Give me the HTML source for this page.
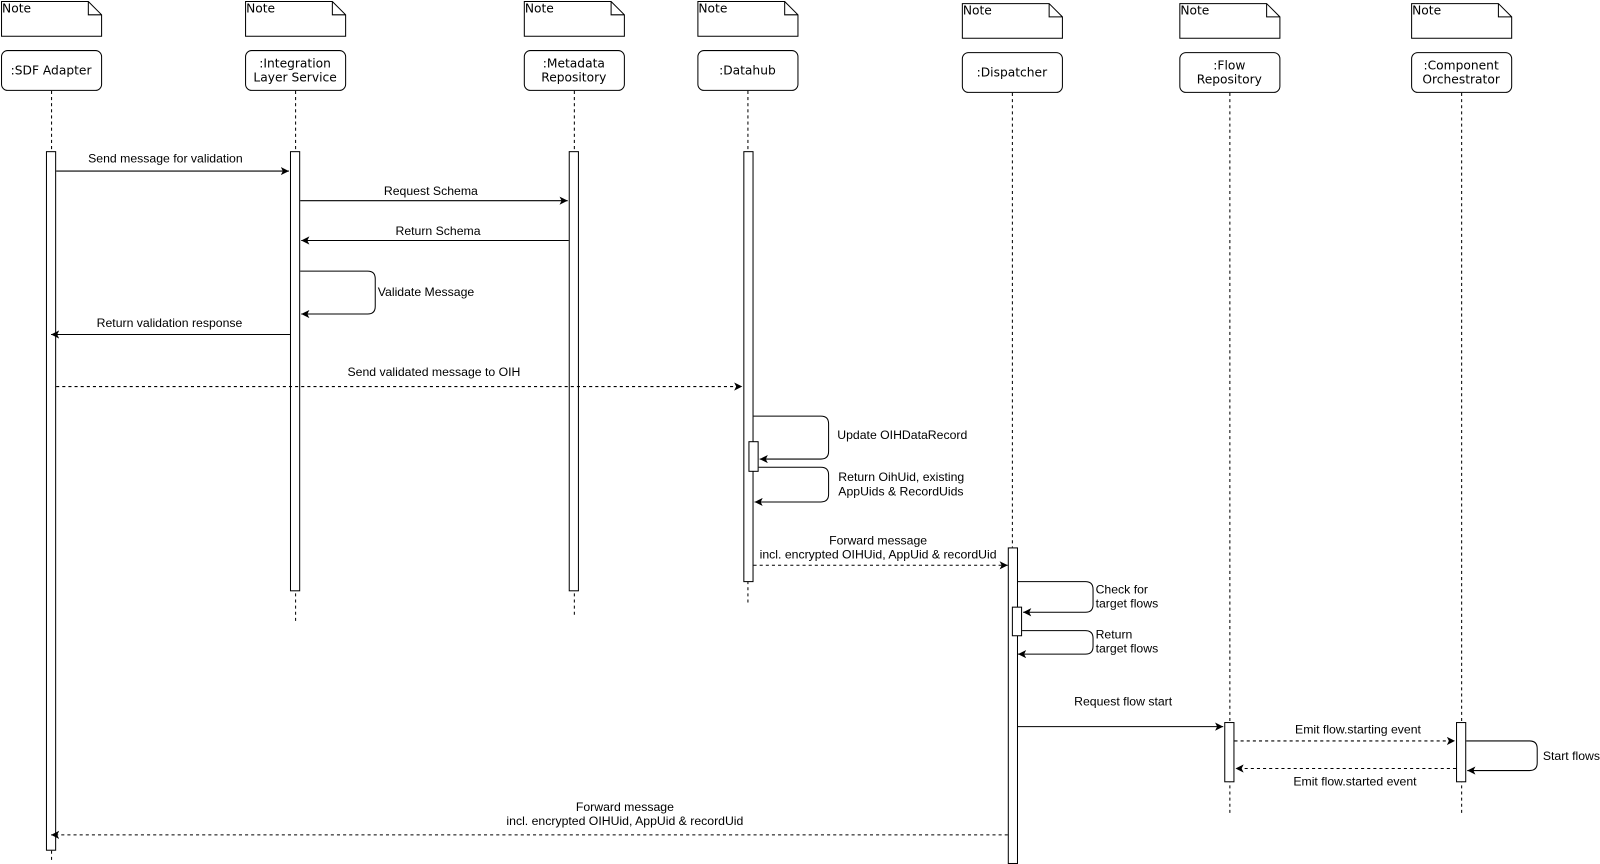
<!DOCTYPE html>
<html><head><meta charset="utf-8"><style>
html,body{margin:0;padding:0;background:#fff;width:1600px;height:864px;overflow:hidden}
svg{display:block}
.h{font-family:"DejaVu Sans",sans-serif;font-size:12px;fill:#000}
.l{font-family:"Liberation Sans",Arial,sans-serif;font-size:12px;fill:#000}
</style></head><body>
<svg width="1600" height="864" viewBox="0 0 1567 846" preserveAspectRatio="none" xmlns="http://www.w3.org/2000/svg">
<defs>
<marker id="a" markerWidth="10" markerHeight="10" refX="8" refY="4" orient="auto" markerUnits="userSpaceOnUse">
<path d="M0,0 L8,4 L0,8 L2,4 Z" fill="#000"/></marker>
</defs>
<g fill="#fff" stroke="#000" stroke-width="1">
<path d="M1.5,1.5 H86.5 L99.5,14.5 V35.5 H1.5 Z M86.5,1.5 V14.5 H99.5"/>
<path d="M240.5,1.5 H325.5 L338.5,14.5 V35.5 H240.5 Z M325.5,1.5 V14.5 H338.5"/>
<path d="M513.5,1.5 H598.5 L611.5,14.5 V35.5 H513.5 Z M598.5,1.5 V14.5 H611.5"/>
<path d="M683.5,1.5 H768.5 L781.5,14.5 V35.5 H683.5 Z M768.5,1.5 V14.5 H781.5"/>
<path d="M942.5,3.5 H1027.5 L1040.5,16.5 V37.5 H942.5 Z M1027.5,3.5 V16.5 H1040.5"/>
<path d="M1155.5,3.5 H1240.5 L1253.5,16.5 V37.5 H1155.5 Z M1240.5,3.5 V16.5 H1253.5"/>
<path d="M1382.5,3.5 H1467.5 L1480.5,16.5 V37.5 H1382.5 Z M1467.5,3.5 V16.5 H1480.5"/>
<rect x="1.5" y="49.5" width="98" height="39" rx="6"/>
<rect x="240.5" y="49.5" width="98" height="39" rx="6"/>
<rect x="513.5" y="49.5" width="98" height="39" rx="6"/>
<rect x="683.5" y="49.5" width="98" height="39" rx="6"/>
<rect x="942.5" y="51.5" width="98" height="39" rx="6"/>
<rect x="1155.5" y="51.5" width="98" height="39" rx="6"/>
<rect x="1382.5" y="51.5" width="98" height="39" rx="6"/>
</g>
<g stroke="#000" stroke-dasharray="3,3" fill="none">
<line x1="50.5" y1="89" x2="50.5" y2="148"/><line x1="50.5" y1="833" x2="50.5" y2="845"/>
<line x1="289.5" y1="89" x2="289.5" y2="610"/>
<line x1="562.5" y1="89" x2="562.5" y2="602"/>
<line x1="732.5" y1="89" x2="732.5" y2="592"/>
<line x1="991.5" y1="91" x2="991.5" y2="536"/>
<line x1="1204.5" y1="91" x2="1204.5" y2="797"/>
<line x1="1431.5" y1="91" x2="1431.5" y2="797"/>
</g>
<g fill="#fff" stroke="#000">
<rect x="45.5" y="148.5" width="9" height="684"/>
<rect x="284.5" y="148.5" width="9" height="430"/>
<rect x="557.5" y="148.5" width="9" height="430"/>
<rect x="728.5" y="148.5" width="9" height="421"/>
<rect x="733.5" y="432.5" width="9" height="29"/>
<rect x="987.5" y="536.5" width="9" height="309"/>
<rect x="991.5" y="594.5" width="9" height="28"/>
<rect x="1199.5" y="707.5" width="9" height="58"/>
<rect x="1426.5" y="707.5" width="9" height="58"/>
</g>
<g stroke="#000" fill="none" marker-end="url(#a)">
<line x1="55" y1="167.5" x2="283" y2="167.5"/>
<line x1="294" y1="196.5" x2="556" y2="196.5"/>
<line x1="557" y1="235.5" x2="295" y2="235.5"/>
<path d="M294,265.5 H360 Q367.5,265.5 367.5,273 V300 Q367.5,307.5 360,307.5 H295"/>
<line x1="284" y1="327.5" x2="50" y2="327.5"/>
<line x1="55" y1="378.5" x2="727" y2="378.5" stroke-dasharray="3,3"/>
<path d="M738,407.5 H804 Q811.5,407.5 811.5,415 V442 Q811.5,449.5 804,449.5 H744"/>
<path d="M743,457.5 H804 Q811.5,457.5 811.5,465 V484 Q811.5,491.5 804,491.5 H739"/>
<line x1="738" y1="553.5" x2="987" y2="553.5" stroke-dasharray="3,3"/>
<path d="M997,569.5 H1063 Q1070.5,569.5 1070.5,577 V592 Q1070.5,599.5 1063,599.5 H1002"/>
<path d="M1001,617.5 H1063 Q1070.5,617.5 1070.5,625 V633 Q1070.5,640.5 1063,640.5 H997"/>
<line x1="997" y1="711.5" x2="1198" y2="711.5"/>
<line x1="1209" y1="725.5" x2="1425" y2="725.5" stroke-dasharray="3,3"/>
<path d="M1436,725.5 H1498 Q1505.5,725.5 1505.5,733 V747 Q1505.5,754.5 1498,754.5 H1437"/>
<line x1="1426" y1="752.5" x2="1210" y2="752.5" stroke-dasharray="3,3"/>
<line x1="987" y1="817.5" x2="50" y2="817.5" stroke-dasharray="3,3"/>
</g>
<g class="h">
<text x="2" y="12">Note</text><text x="241" y="12">Note</text><text x="514" y="12">Note</text><text x="684" y="12">Note</text>
<text x="943" y="14">Note</text><text x="1156" y="14">Note</text><text x="1383" y="14">Note</text>
</g>
<g class="h" text-anchor="middle">
<text x="50" y="73">:SDF Adapter</text>
<text x="289" y="66">:Integration</text><text x="289" y="80">Layer Service</text>
<text x="562" y="66">:Metadata</text><text x="562" y="80">Repository</text>
<text x="732" y="73">:Datahub</text>
<text x="991" y="75">:Dispatcher</text>
<text x="1204" y="68">:Flow</text><text x="1204" y="82">Repository</text>
<text x="1431" y="68">:Component</text><text x="1431" y="82">Orchestrator</text>
</g>
<g class="l" text-anchor="middle">
<text x="162" y="159">Send message for validation</text>
<text x="422" y="191">Request Schema</text>
<text x="429" y="230">Return Schema</text>
<text x="166" y="320">Return validation response</text>
<text x="425" y="368">Send validated message to OIH</text>
<text x="860" y="533">Forward message</text><text x="860" y="547">incl. encrypted OIHUid, AppUid &amp; recordUid</text>
<text x="1100" y="691">Request flow start</text>
<text x="1330" y="718">Emit flow.starting event</text>
<text x="1327" y="769">Emit flow.started event</text>
<text x="612" y="794">Forward message</text><text x="612" y="808">incl. encrypted OIHUid, AppUid &amp; recordUid</text>
</g>
<g class="l">
<text x="370" y="290">Validate Message</text>
<text x="820" y="430">Update OIHDataRecord</text>
<text x="821" y="471">Return OihUid, existing</text><text x="821" y="485">AppUids &amp; RecordUids</text>
<text x="1073" y="581">Check for</text><text x="1073" y="595">target flows</text>
<text x="1073" y="625">Return</text><text x="1073" y="639">target flows</text>
<text x="1511" y="744">Start flows</text>
</g>
</svg>
</body></html>
